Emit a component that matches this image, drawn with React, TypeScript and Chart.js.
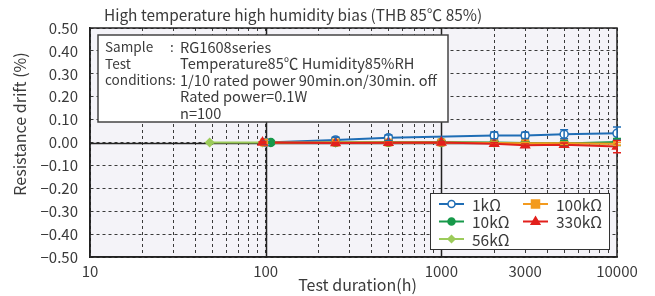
import React, { useEffect, useRef } from "react";
import { Chart, registerables } from "chart.js";

Chart.register(...registerables);

const FONT = '"Noto Sans CJK JP", "Liberation Sans", sans-serif';
const TEXT = "#3a3a3a";

const chartTitle = "High temperature high humidity bias (THB 85℃ 85%)";
const xAxisTitle = "Test duration(h)";
const yAxisTitle = "Resistance drift (%)";
const xTickLabels = [10, 100, 1000, 3000, 10000];
const yTickMin = -0.5;
const yTickMax = 0.5;
const yTickStep = 0.1;
const noteLabels = ["Sample", "Test", "conditions:", "", ""];
const noteColon = [":", "", "", "", ""];
const noteValues = [
  "RG1608series",
  "Temperature85℃ Humidity85%RH",
  "1/10 rated power 90min.on/30min. off",
  "Rated power=0.1W",
  "n=100",
];

const seriesNames = ["1kΩ", "10kΩ", "56kΩ", "100kΩ", "330kΩ"];
const seriesColors = ["#1f6db5", "#17994a", "#9ccb5a", "#f39a1e", "#e2201c"];

const hours1k = [100, 250, 500, 2000, 3000, 5000, 10000];
const drift1k = [0.0, 0.011, 0.021, 0.031, 0.031, 0.036, 0.04];
const err1k = [0.004, 0.012, 0.012, 0.015, 0.014, 0.02, 0.028];

const hours10k = [107, 250, 500, 1000, 2000, 3000, 5000, 10000];
const drift10k = [0.0, 0.0, 0.001, 0.001, 0.0, -0.002, -0.004, 0.002];
const err10k = [0.003, 0.003, 0.003, 0.003, 0.004, 0.005, 0.012, 0.015];

const hours56k = [48, 96, 250, 500, 1000, 2000, 3000, 5000, 10000];
const drift56k = [0.0, 0.0, 0.0, 0.0, 0.0, -0.002, -0.003, -0.003, -0.004];
const err56k = [0, 0, 0, 0, 0, 0, 0, 0, 0];

const hours100k = [98, 250, 500, 1000, 2000, 3000, 5000, 10000];
const drift100k = [0.0, 0.0, 0.0, 0.0, -0.002, -0.003, -0.003, -0.006];
const err100k = [0.003, 0.003, 0.003, 0.003, 0.004, 0.004, 0.005, 0.006];

const hours330k = [96, 250, 500, 1000, 2000, 3000, 5000, 10000];
const drift330k = [0.0, -0.002, -0.001, 0.0, -0.005, -0.012, -0.01, -0.018];
const err330k = [0.003, 0.003, 0.003, 0.003, 0.004, 0.005, 0.008, 0.027];

const seriesHours = [hours1k, hours10k, hours56k, hours100k, hours330k];
const seriesDrift = [drift1k, drift10k, drift56k, drift100k, drift330k];
const seriesErr = [err1k, err10k, err56k, err100k, err330k];
const seriesStyle = ["circle", "circle", "rectRot", "rect", "triangle"];
const seriesFill = ["#ffffff", "#17994a", "#9ccb5a", "#f39a1e", "#e2201c"];
const seriesRadius = [4, 4, 4, 4.5, 5];
const seriesOrder = [2, 3, 4, 1, 0];

function fmtY(v: number) {
  const r = Math.round(v * 100);
  const s = (Math.abs(r) / 100).toFixed(2);
  return r < 0 ? "−" + s : s;
}

function drawMarker(ctx: CanvasRenderingContext2D, style: string, x: number, y: number, r: number, fill: string, stroke: string) {
  ctx.save();
  ctx.fillStyle = fill;
  ctx.strokeStyle = stroke;
  ctx.lineWidth = 1.5;
  ctx.beginPath();
  if (style === "circle") {
    ctx.arc(x, y, r, 0, Math.PI * 2);
  } else if (style === "rect") {
    ctx.rect(x - r, y - r, 2 * r, 2 * r);
  } else if (style === "rectRot") {
    ctx.moveTo(x, y - r);
    ctx.lineTo(x + r, y);
    ctx.lineTo(x, y + r);
    ctx.lineTo(x - r, y);
    ctx.closePath();
  } else if (style === "triangle") {
    ctx.moveTo(x, y - r);
    ctx.lineTo(x + r * 0.95, y + r * 0.6);
    ctx.lineTo(x - r * 0.95, y + r * 0.6);
    ctx.closePath();
  }
  ctx.fill();
  ctx.stroke();
  ctx.restore();
}

const decorPlugin = {
  id: "decor",
  beforeDraw(chart: any) {
    const { ctx, chartArea: a } = chart;
    ctx.save();
    ctx.fillStyle = "#f4f3f8";
    ctx.fillRect(a.left, a.top, a.right - a.left, a.bottom - a.top);
    ctx.restore();
  },
  beforeDatasetsDraw(chart: any) {
    const { ctx, chartArea: a, scales } = chart;
    ctx.save();
    ctx.strokeStyle = "#222";
    ctx.lineWidth = 1.5;
    ctx.beginPath();
    [100, 1000].forEach((v) => {
      const x = Math.round(scales.x.getPixelForValue(v)) + 0.5;
      ctx.moveTo(x, a.top);
      ctx.lineTo(x, a.bottom);
    });
    const y0 = Math.round(scales.y.getPixelForValue(0)) + 0.5;
    ctx.moveTo(a.left, y0);
    ctx.lineTo(a.right, y0);
    ctx.stroke();
    ctx.lineWidth = 1.5;
    ctx.strokeRect(a.left, a.top, a.right - a.left, a.bottom - a.top);

    // annotation box
    const bx = a.left + 8;
    const by = a.top + 7;
    const bw = 350;
    const bh = 87;
    ctx.fillStyle = "#ffffff";
    ctx.fillRect(bx, by, bw, bh);
    ctx.strokeStyle = "#444";
    ctx.lineWidth = 1.5;
    ctx.strokeRect(bx, by, bw, bh);
    ctx.fillStyle = TEXT;
    ctx.textBaseline = "middle";
    ctx.textAlign = "left";
    for (let i = 0; i < noteValues.length; i++) {
      const ly = by + 12 + i * 16.6;
      ctx.font = "13.6px " + FONT;
      if (noteLabels[i]) ctx.fillText(noteLabels[i], bx + 7, ly);
      if (noteColon[i]) ctx.fillText(noteColon[i], bx + 72, ly);
      ctx.font = "14.6px " + FONT;
      ctx.fillText(noteValues[i], bx + 82, ly);
    }
    ctx.restore();
  },
  afterDatasetsDraw(chart: any) {
    const { ctx, chartArea: a, scales } = chart;
    ctx.save();
    // error bars
    chart.data.datasets.forEach((ds: any, i: number) => {
      const meta = chart.getDatasetMeta(i);
      const errs = seriesErr[i];
      meta.data.forEach((el: any, j: number) => {
        const e = errs[j];
        if (!e) return;
        const v = seriesDrift[i][j];
        const yt = scales.y.getPixelForValue(v + e);
        const yb = scales.y.getPixelForValue(v - e);
        ctx.strokeStyle = seriesColors[i];
        ctx.lineWidth = 1.5;
        ctx.beginPath();
        ctx.moveTo(el.x, yt);
        ctx.lineTo(el.x, yb);
        ctx.moveTo(el.x - 4, yt);
        ctx.lineTo(el.x + 4, yt);
        ctx.moveTo(el.x - 4, yb);
        ctx.lineTo(el.x + 4, yb);
        ctx.stroke();
      });
    });

    // legend
    const lw = 179;
    const lh = 56;
    const lx = a.right - 8 - lw;
    const ly = a.bottom - 8 - lh;
    ctx.fillStyle = "#ffffff";
    ctx.fillRect(lx, ly, lw, lh);
    ctx.strokeStyle = "#333";
    ctx.lineWidth = 1;
    ctx.strokeRect(lx + 0.5, ly + 0.5, lw, lh);
    const slots = [
      [0, 0, 0],
      [1, 0, 1],
      [2, 0, 2],
      [3, 1, 0],
      [4, 1, 1],
    ];
    ctx.font = "15.5px " + FONT;
    ctx.textBaseline = "middle";
    ctx.textAlign = "left";
    slots.forEach(([si, col, row]) => {
      const x0 = lx + 9 + col * 84;
      const y = ly + 11 + row * 17.5;
      ctx.strokeStyle = seriesColors[si];
      ctx.lineWidth = 2;
      ctx.beginPath();
      ctx.moveTo(x0, y);
      ctx.lineTo(x0 + 25, y);
      ctx.stroke();
      drawMarker(ctx, seriesStyle[si], x0 + 12.5, y, seriesRadius[si] - 0.5, seriesFill[si], seriesColors[si]);
      ctx.fillStyle = TEXT;
      ctx.fillText(seriesNames[si], x0 + 33, y + 1);
    });
    ctx.restore();
  },
  afterDraw(chart: any) {
    const { ctx, chartArea: a } = chart;
    ctx.save();
    ctx.fillStyle = TEXT;
    ctx.textBaseline = "middle";
    ctx.font = "15.4px " + FONT;
    ctx.textAlign = "left";
    ctx.fillText(chartTitle, a.left + 14, 15);
    ctx.textAlign = "center";
    ctx.font = "16px " + FONT;
    ctx.fillText(xAxisTitle, (a.left + a.right) / 2 + 4, 285);
    ctx.translate(20, 124);
    ctx.rotate(-Math.PI / 2);
    ctx.font = "16px " + FONT;
    ctx.fillText(yAxisTitle, 0, 0);
    ctx.restore();
  },
};

export default function App() {
  const ref = useRef<HTMLCanvasElement | null>(null);
  useEffect(() => {
    if (!ref.current) return;
    const gridValues: number[] = [];
    for (let d = 10; d < 10000; d *= 10) {
      for (let k = 1; k < 10; k++) gridValues.push(d * k);
    }
    gridValues.push(10000);
    const datasets = seriesNames.map((name, i) => ({
      label: name,
      data: seriesHours[i].map((h, j) => ({ x: h, y: seriesDrift[i][j] })),
      showLine: true,
      borderColor: seriesColors[i],
      backgroundColor: seriesFill[i],
      pointBorderColor: seriesColors[i],
      pointBackgroundColor: seriesFill[i],
      pointStyle: seriesStyle[i],
      pointRadius: seriesRadius[i],
      pointBorderWidth: 1.5,
      borderWidth: 2,
      order: seriesOrder[i],
    }));
    const chart = new Chart(ref.current, {
      type: "scatter",
      data: { datasets },
      options: {
        responsive: false,
        animation: false,
        events: [],
        layout: { padding: { top: 28, right: 38, left: 0, bottom: 0 } },
        plugins: { legend: { display: false }, tooltip: { enabled: false }, title: { display: false } },
        scales: {
          x: {
            type: "logarithmic",
            min: 10,
            max: 10000,
            afterBuildTicks: (s: any) => {
              s.ticks = gridValues.map((v) => ({ value: v }));
            },
            afterFit: (s: any) => {
              s.height = 39;
            },
            ticks: {
              autoSkip: false,
              maxRotation: 0,
              padding: 5,
              color: TEXT,
              font: { family: FONT, size: 15 },
              callback: (v: any) => (xTickLabels.includes(Number(v)) ? String(v) : ""),
            },
            grid: { color: "#3a3a3a", lineWidth: 1, drawTicks: false },
            border: { display: true, color: "#222", width: 1.5, dash: [3, 3] },
          },
          y: {
            type: "linear",
            min: yTickMin,
            max: yTickMax,
            afterFit: (s: any) => {
              s.width = 90;
            },
            ticks: {
              stepSize: yTickStep,
              padding: 12,
              color: TEXT,
              font: { family: FONT, size: 15 },
              callback: (v: any) => fmtY(Number(v)),
            },
            grid: { color: "#3a3a3a", lineWidth: 1, drawTicks: false },
            border: { display: true, color: "#222", width: 1.5, dash: [3, 3] },
          },
        },
      },
      plugins: [decorPlugin],
    } as any);
    return () => chart.destroy();
  }, []);
  return (
    <div style={{ position: "absolute", left: 0, top: 0, width: 655, height: 296, background: "#fff" }}>
      <canvas ref={ref} width={655} height={296} style={{ display: "block" }} />
    </div>
  );
}
